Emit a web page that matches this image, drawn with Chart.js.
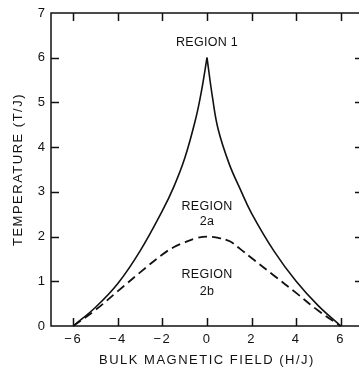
<!DOCTYPE html>
<html>
<head>
<meta charset="utf-8">
<script src="https://cdn.jsdelivr.net/npm/chart.js@4"></script>
<style>
  html, body { margin: 0; padding: 0; background: #fff; overflow: hidden; }
  #wrap { width: 366px; height: 373px; }
</style>
</head>
<body>
<div id="wrap"><canvas id="phaseChart" width="366" height="373"></canvas></div>
<script>
// ticks
const xTicks = [-6, -4, -2, 0, 2, 4, 6];
const yTicks = [0, 1, 2, 3, 4, 5, 6, 7];

// solid boundary (region 1 / region 2), two branches meeting at the cusp
const solidLeftH = [-6, -5, -4, -3, -2, -1.5, -1, -0.5, -0.25, 0];
const solidLeftT = [0, 0.42, 0.95, 1.68, 2.58, 3.1, 3.75, 4.65, 5.25, 6];
const solidRightH = [0, 0.25, 0.5, 1, 1.5, 2, 3, 4, 5, 6];
const solidRightT = [6, 5.1, 4.4, 3.62, 3.05, 2.52, 1.68, 1.0, 0.45, 0];

// dashed boundary (region 2a / region 2b)
const dashedH = [-6, -5, -4, -3, -2, -1.5, -1, -0.5, 0, 0.5, 1, 1.5, 2, 3, 4, 5, 6];
const dashedT = [0, 0.36, 0.78, 1.2, 1.6, 1.76, 1.87, 1.96, 2.0, 1.97, 1.9, 1.72, 1.52, 1.13, 0.74, 0.34, 0];

const regionLabels = ['REGION 1', 'REGION', '2a', 'REGION', '2b'];

const INK = '#111';
const FONT = '"Liberation Sans", Arial, sans-serif';

const toPoints = (hs, ts) => hs.map((h, i) => ({ x: h, y: ts[i] }));
const minus = v => String(v).replace('-', '\u2212');

const lineStyle = {
    showLine: true,
    pointRadius: 0,
    borderColor: INK,
    borderWidth: 1.6,
    tension: 0.4,
    fill: false,
    clip: false
};

const framePlugin = {
    id: 'frame',
    beforeDraw(chart) {
        chart.ctx.letterSpacing = '1.5px';
    },
    afterDraw(chart) {
        const { ctx, chartArea: a } = chart;
        const xs = chart.scales.x, ys = chart.scales.y;
        ctx.save();
        ctx.strokeStyle = INK;
        ctx.lineWidth = 1.5;
        ctx.strokeRect(a.left, a.top, a.right - a.left, a.bottom - a.top);
        ctx.beginPath();
        xTicks.forEach(v => {
            const px = Math.round(xs.getPixelForValue(v)) + 0.5;
            ctx.moveTo(px, a.bottom); ctx.lineTo(px, a.bottom - 8);
            ctx.moveTo(px, a.top); ctx.lineTo(px, a.top + 8);
        });
        yTicks.slice(1, -1).forEach(v => {
            const py = Math.round(ys.getPixelForValue(v)) + 0.5;
            ctx.moveTo(a.left, py); ctx.lineTo(a.left + 8, py);
            ctx.moveTo(a.right, py); ctx.lineTo(a.right - 8, py);
        });
        ctx.stroke();

        // region labels
        ctx.fillStyle = INK;
        ctx.font = '12.5px ' + FONT;
        ctx.textAlign = 'center';
        ctx.textBaseline = 'middle';
        ctx.letterSpacing = '0.3px';
        const cx = xs.getPixelForValue(0);
        const at = [6.35, 2.68, 2.33, 1.14, 0.76];
        regionLabels.forEach((t, i) => ctx.fillText(t, cx, ys.getPixelForValue(at[i])));
        ctx.restore();
    }
};

new Chart(document.getElementById('phaseChart'), {
    type: 'scatter',
    data: {
        datasets: [
            { ...lineStyle, data: toPoints(solidLeftH, solidLeftT) },
            { ...lineStyle, data: toPoints(solidRightH, solidRightT) },
            { ...lineStyle, borderWidth: 1.8, borderDash: [9, 5], data: toPoints(dashedH, dashedT) }
        ]
    },
    options: {
        responsive: false,
        animation: false,
        devicePixelRatio: 1,
        layout: { padding: { top: 13, right: 3, left: 0, bottom: 0 } },
        plugins: { legend: { display: false }, tooltip: { enabled: false } },
        scales: {
            x: {
                type: 'linear', min: -7, max: 7,
                afterBuildTicks: s => { s.ticks = xTicks.map(v => ({ value: v })); },
                afterFit: s => { s.height = 47; },
                grid: { display: false, drawTicks: false },
                border: { display: false },
                ticks: { color: INK, font: { family: FONT, size: 13 }, padding: 6, maxRotation: 0,
                         callback: v => minus(v) },
                title: { display: true, text: 'BULK MAGNETIC FIELD (H/J)', color: INK,
                         font: { family: FONT, size: 13 }, padding: 5 }
            },
            y: {
                type: 'linear', min: 0, max: 7,
                afterBuildTicks: s => { s.ticks = yTicks.map(v => ({ value: v })); },
                afterFit: s => { s.width = 51; },
                grid: { display: false, drawTicks: false },
                border: { display: false },
                ticks: { color: INK, font: { family: FONT, size: 13 }, padding: 4.5 },
                title: { display: true, text: 'TEMPERATURE (T/J)', color: INK,
                         font: { family: FONT, size: 13 }, padding: 11 }
            }
        }
    },
    plugins: [framePlugin]
});
</script>
</body>
</html>
